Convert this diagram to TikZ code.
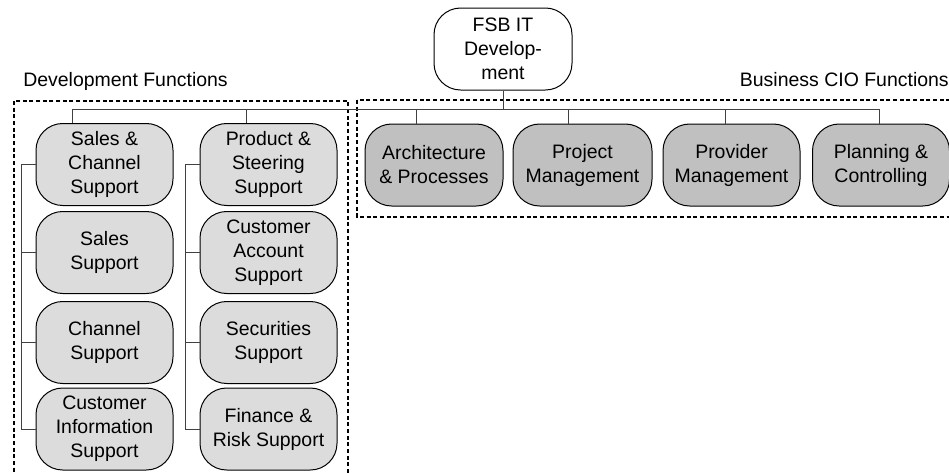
\documentclass[tikz,border=0pt]{standalone}
\usepackage{fontspec}
\setmainfont{Liberation Sans}
\definecolor{lightbox}{RGB}{220,220,220}
\definecolor{darkbox}{RGB}{192,192,192}
\definecolor{conn}{RGB}{64,64,64}
\tikzset{
  orgbox/.style={draw=black, line width=0.75pt, rounded corners=20pt, align=center,
    inner sep=0pt, minimum height=61.5pt, font=\fontsize{14.6}{18}\selectfont},
  devbox/.style={orgbox, fill=lightbox, minimum width=102.75pt},
  ciobox/.style={orgbox, fill=darkbox},
  rootbox/.style={orgbox, fill=white, minimum width=103.5pt},
  conline/.style={draw=conn, line width=0.75pt},
  groupframe/.style={draw=black, line width=1.9pt, dash pattern=on 3pt off 2pt},
  grouplabel/.style={font=\fontsize{14.6}{18}\selectfont, inner sep=0pt}
}
\begin{document}
\begin{tikzpicture}[x=0.75pt, y=-0.75pt]
\useasboundingbox (0,0) rectangle (949,472);
\clip (0,0) rectangle (949,472);
% group frames
\draw[groupframe] (14,101) rectangle (348,490);
\draw[groupframe] (357,100) rectangle (970,217);
% labels
\node[grouplabel, anchor=base west] (devlabel) at (23,86.5) {Development Functions};
\node[grouplabel, anchor=base east] (ciolabel) at (949,86.5) {Business CIO Functions};
% root
\node[rootbox] (root) at (503,49) {FSB IT\\Develop-\\ment};
% business CIO boxes
\node[ciobox, minimum width=103.5pt] (arch) at (434,165) {Architecture\\\& Processes};
\node[ciobox, minimum width=104.25pt] (proj) at (582.5,165) {Project\\Management};
\node[ciobox, minimum width=102.75pt] (prov) at (731.5,165) {Provider\\Management};
\node[ciobox, minimum width=102.75pt] (plan) at (881,165) {Planning \&\\Controlling};
% development boxes, left column
\node[devbox] (sc) at (104.5,164.5) {Sales \&\\Channel\\Support};
\node[devbox] (ss) at (104.5,252.5) {Sales\\Support};
\node[devbox] (cs) at (104.5,342.5) {Channel\\Support};
\node[devbox] (ci) at (104.5,429) {Customer\\Information\\Support};
% development boxes, right column
\node[devbox] (ps) at (268.5,164.5) {Product \&\\Steering\\Support};
\node[devbox] (ca) at (268.5,252.5) {Customer\\Account\\Support};
\node[devbox] (se) at (268.5,342.5) {Securities\\Support};
\node[devbox] (fr) at (268.5,429) {Finance \&\\Risk Support};
% bus
\coordinate (busL) at (72,109);
\coordinate (busR) at (879,109);
\coordinate (tps) at (246,109);
\coordinate (tarch) at (416,109);
\coordinate (tproj) at (568,109);
\coordinate (tprov) at (725,109);
\draw[conline] (busL) -- (busR);
\draw[conline] (root.south) -- (root.south |- busL);
\draw[conline] (busL) -- (busL |- sc.north);
\draw[conline] (tps) -- (tps |- ps.north);
\draw[conline] (tarch) -- (tarch |- arch.north);
\draw[conline] (tproj) -- (tproj |- proj.north);
\draw[conline] (tprov) -- (tprov |- prov.north);
\draw[conline] (busR) -- (busR |- plan.north);
% left column bracket
\coordinate (brL) at (21,0);
\draw[conline] (sc.west) -- (sc.west -| brL) -- (ci.west -| brL) -- (ci.west);
\draw[conline] (ss.west) -- (ss.west -| brL);
\draw[conline] (cs.west) -- (cs.west -| brL);
% right column bracket
\coordinate (brR) at (185,0);
\draw[conline] (ps.west) -- (ps.west -| brR) -- (fr.west -| brR) -- (fr.west);
\draw[conline] (ca.west) -- (ca.west -| brR);
\draw[conline] (se.west) -- (se.west -| brR);
\end{tikzpicture}
\end{document}
